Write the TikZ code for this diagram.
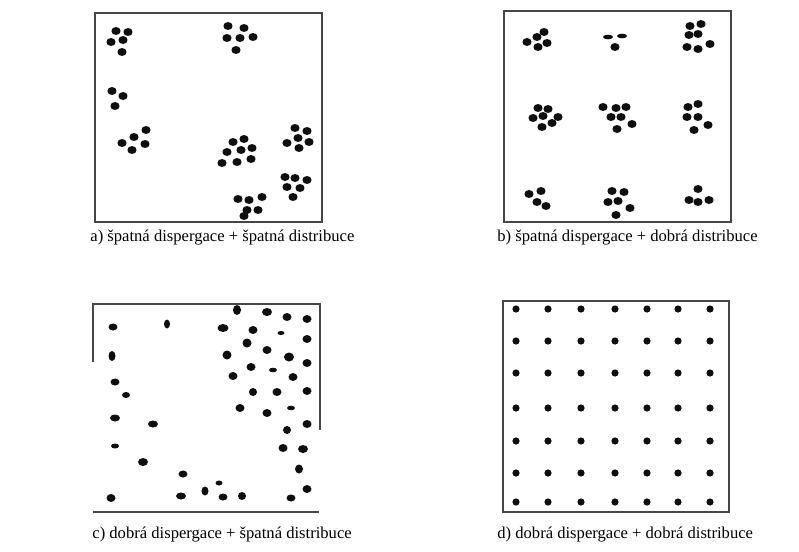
\documentclass[tikz,border=0pt]{standalone}
\usepackage{fontspec}
\setmainfont{Liberation Serif}
\usepackage{xcolor}
\definecolor{boxline}{RGB}{70, 70, 70}
\definecolor{blobfill}{RGB}{15, 15, 15}

\begin{document}
\begin{tikzpicture}[x=0.5pt, y=-0.5pt,
    frame/.style={draw=boxline, line width=0.8pt},
    blob/.style={fill=blobfill},
    caption/.style={anchor=west, inner sep=0pt, font=\fontsize{8.3}{10}\selectfont}]
    \useasboundingbox (0,0) rectangle (799,552);

    % a) clumps, scattered unevenly
    \draw[frame] (95,13) rectangle (322,222);
    \foreach \x/\y in {116/31, 128/32, 111/42, 123/40, 122/52,
                       228/26, 244/28, 227/38, 240/38, 253/37, 236/50,
                       112/91, 123/96, 115/106,
                       146/130, 134/137, 122/143, 145/144, 132/150,
                       233/142, 244/139, 227/152, 241/150, 252/148, 222/163, 237/162, 251/159,
                       295/128, 307/131, 298/138, 287/143, 309/142, 299/148,
                       285/177, 295/178, 307/180, 287/187, 300/188, 293/197,
                       238/199, 249/200, 262/197, 247/210, 258/210, 244/216}
        \fill[blob] (\x,\y) ellipse (4.6 and 4);
    \node[caption] (capA) at (90,238) {a) špatná dispergace + špatná distribuce};

    % b) clumps on a regular 3x3 grid
    \draw[frame] (504,11) rectangle (731,222);
    \foreach \x/\y in {527/42, 537/37, 544/32, 547/43, 538/47,
                       615/47,
                       690/26, 701/24, 689/35, 698/34, 687/47, 698/49, 710/44,
                       538/108, 548/109, 533/118, 543/116, 558/117, 552/123, 542/127,
                       603/107, 616/108, 626/107, 611/117, 621/117, 632/124, 617/129,
                       688/107, 698/104, 687/117, 698/117, 708/125, 694/130,
                       529/194, 541/191, 537/202, 546/206,
                       612/191, 624/192, 608/202, 618/201, 630/208, 616/215,
                       698/189, 689/200, 698/202, 709/200}
        \fill[blob] (\x,\y) ellipse (4.6 and 4);
    \foreach \x/\y in {608/37, 622/36}
        \fill[blob] (\x,\y) ellipse (5 and 2.3);
    \node[caption] (capB) at (497,238) {b) špatná dispergace + dobrá distribuce};

    % c) single particles, crowded to the upper right
    \draw[frame] (93,362) -- (93,304) -- (320,304) -- (320,430);
    \draw[frame] (93,512) -- (319,512);
    \foreach \x/\y/\a/\b in {113/327/4.5/3.5, 112/356/3.5/5, 115/382/4.5/3.5, 126/395/4/3,
                             115/418/5/3.5, 115/446/4/2.5, 111/498/4.5/4, 167/324/3/4.5,
                             153/424/5/3.5, 143/462/5/4, 183/474/4.5/3.5, 181/496/5/3.5,
                             205/491/3.5/4.5, 219/483/3.5/2.5, 223/497/4.5/3.5, 242/496/4/4,
                             237/310/4/5, 267/312/5/4, 287/317/4.5/4, 307/319/4.5/4,
                             223/328/5.5/4, 253/330/4.5/4, 281/333/3.5/2, 307/339/4.5/4,
                             247/343/4.5/4.5, 267/350/4.5/4, 227/355/4.5/4.5, 289/357/5/4.5,
                             307/363/4.5/4, 251/367/4.5/4, 273/370/4/2.3, 233/376/4.5/4,
                             293/377/4.5/4, 253/392/4/4, 277/392/4.5/4, 307/391/4.5/4,
                             240/408/4.5/4, 267/413/4.5/4, 291/408/4/2.3, 287/430/4/4,
                             307/424/4.5/4, 283/448/4.5/4, 303/449/5/4, 299/469/4/4.5,
                             307/489/4.5/4, 291/498/4.5/3.5}
        \fill[blob] (\x,\y) ellipse [x radius=\a, y radius=\b];
    \node[caption] (capC) at (92,535) {c) dobrá dispergace + špatná distribuce};

    % d) single particles on a regular grid
    \draw[frame] (503,301) rectangle (729,512);
    \foreach \x in {516, 548, 581, 615, 647, 678, 710}
        \foreach \y in {309, 341, 373, 408, 441, 473, 502}
            \fill[blob] (\x,\y) circle (3.6);
    \node[caption] (capD) at (497,535) {d) dobrá dispergace + dobrá distribuce};
\end{tikzpicture}
\end{document}
